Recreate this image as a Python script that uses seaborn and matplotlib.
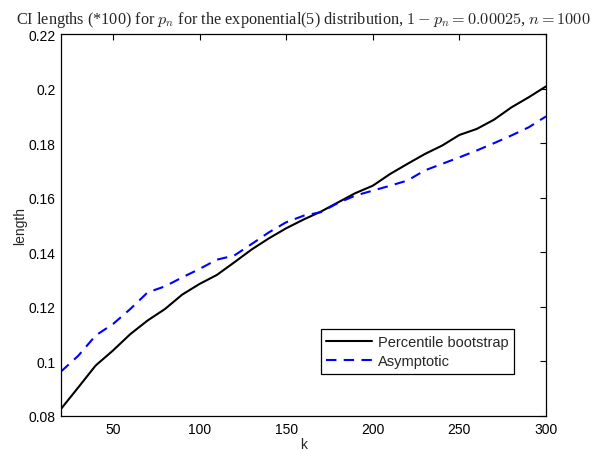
import numpy as np
import pandas as pd
import seaborn as sns
import matplotlib
matplotlib.use("Agg")
import matplotlib.pyplot as plt
from matplotlib.ticker import FuncFormatter
from matplotlib.lines import Line2D

# CI lengths (*100) against the number of upper order statistics k
k = [20, 30, 40, 50, 60, 70, 80, 90, 100, 110, 120, 130, 140, 150, 160,
     170, 180, 190, 200, 210, 220, 230, 240, 250, 260, 270, 280, 290, 300]
percentile_bootstrap = [0.0826, 0.0905, 0.0985, 0.1040, 0.1100, 0.1150, 0.1192,
                        0.1245, 0.1284, 0.1317, 0.1363, 0.1410, 0.1451, 0.1488,
                        0.1520, 0.1549, 0.1583, 0.1617, 0.1644, 0.1687, 0.1724,
                        0.1760, 0.1791, 0.1830, 0.1852, 0.1886, 0.1931, 0.1968,
                        0.2008]
asymptotic = [0.0963, 0.1021, 0.1095, 0.1137, 0.1192, 0.1253, 0.1275, 0.1308,
              0.1339, 0.1373, 0.1388, 0.1430, 0.1473, 0.1510, 0.1534, 0.1547,
              0.1581, 0.1608, 0.1626, 0.1644, 0.1663, 0.1700, 0.1724, 0.1748,
              0.1773, 0.1800, 0.1828, 0.1858, 0.1898]
series_names = ["Percentile bootstrap", "Asymptotic"]
x_ticks = [50, 100, 150, 200, 250, 300]
y_ticks = [0.08, 0.10, 0.12, 0.14, 0.16, 0.18, 0.20, 0.22]

df = pd.DataFrame({
    "k": k * 2,
    "length": percentile_bootstrap + asymptotic,
    "method": [series_names[0]] * len(k) + [series_names[1]] * len(k),
})

sns.set_style("white")
plt.rcParams["font.family"] = ["Liberation Sans", "DejaVu Sans"]
plt.rcParams["mathtext.fontset"] = "cm"

fig = plt.figure(figsize=(5.93, 4.52), dpi=100)
ax = fig.add_axes([61 / 593, 1 - 417 / 452, 485 / 593, 382 / 452])

sns.lineplot(
    data=df, x="k", y="length", hue="method", style="method",
    palette={series_names[0]: "black", series_names[1]: "#0000ff"},
    dashes={series_names[0]: "", series_names[1]: (5, 3.5)},
    linewidth=1.5, ax=ax, legend=False,
)

ax.set_xlim(20, 300)
ax.set_ylim(0.08, 0.22)
ax.set_xticks(x_ticks)
ax.set_yticks(y_ticks)
ax.yaxis.set_major_formatter(FuncFormatter(lambda v, p: "%g" % round(v, 4)))
ax.tick_params(direction="in", length=4, width=0.8, top=True, right=True,
               labelsize=10, colors="black", pad=4)
for s in ax.spines.values():
    s.set_color("black")
    s.set_linewidth(0.9)
    s.set_visible(True)

ax.set_xlabel("k", fontsize=10, labelpad=1)
ax.set_ylabel("length", fontsize=10, labelpad=1)

fig.text(303 / 593, 1 - 24 / 452,
         r"CI lengths (*100) for $p_n$ for the exponential(5) distribution, "
         r"$1-p_n=0.00025$, $n=1000$",
         fontsize=11.7, family=["Liberation Serif", "DejaVu Serif"],
         ha="center", va="baseline")

handles = [Line2D([], [], color="black", lw=1.5),
           Line2D([], [], color="#0000ff", lw=1.5, dashes=(5, 3.5))]
leg = ax.legend(handles, series_names, loc="lower right",
                bbox_to_anchor=(514 / 593, 1 - 375 / 452),
                bbox_transform=fig.transFigure, fontsize=10.5,
                frameon=True, fancybox=False, framealpha=1,
                handlelength=3.1, borderpad=0.4, labelspacing=0.35,
                handletextpad=0.4, borderaxespad=0)
leg.get_frame().set_edgecolor("black")
leg.get_frame().set_linewidth(0.9)

fig.savefig("out.png", dpi=100)
